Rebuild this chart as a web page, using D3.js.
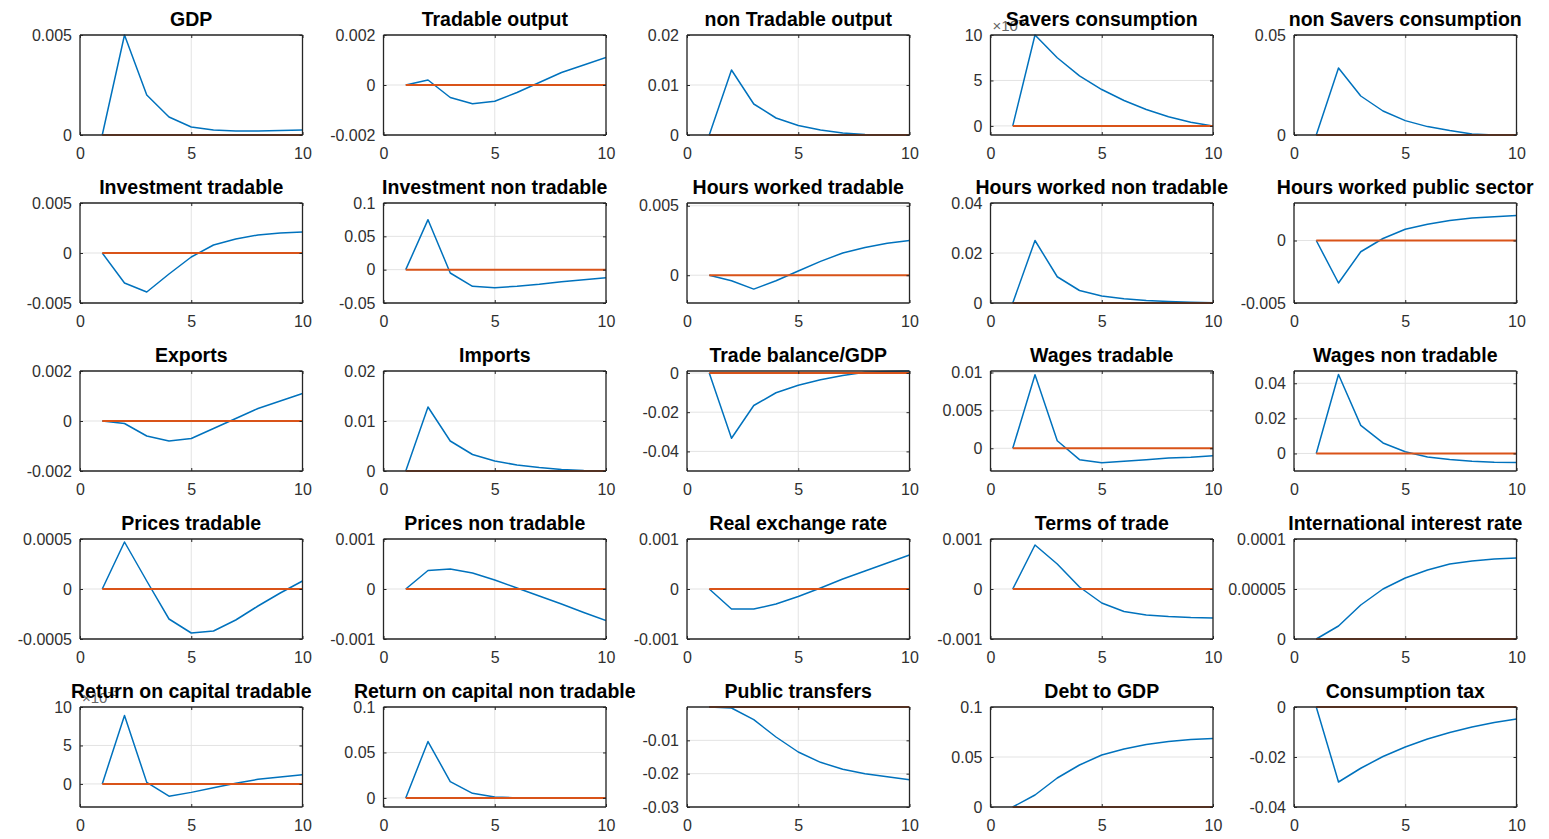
<!DOCTYPE html>
<html>
<head>
<meta charset="utf-8">
<script src="https://cdn.jsdelivr.net/npm/d3@7"></script>
<style>
  html, body { margin: 0; padding: 0; background: #ffffff; }
  svg { display: block; }
  text { font-family: "Liberation Sans", Arial, Helvetica, sans-serif; }
</style>
</head>
<body>
<svg id="chart" width="1549" height="839"></svg>
<script>
// ---------- DATA ----------
const periods = [1, 2, 3, 4, 5, 6, 7, 8, 9, 10];
const xTicks = [0, 5, 10];

const titles = [
  "GDP", "Tradable output", "non Tradable output", "Savers consumption", "non Savers consumption",
  "Investment tradable", "Investment non tradable", "Hours worked tradable", "Hours worked non tradable", "Hours worked public sector",
  "Exports", "Imports", "Trade balance/GDP", "Wages tradable", "Wages non tradable",
  "Prices tradable", "Prices non tradable", "Real exchange rate", "Terms of trade", "International interest rate",
  "Return on capital tradable", "Return on capital non tradable", "Public transfers", "Debt to GDP", "Consumption tax"
];

const gdp              = [0, 0.005, 0.002, 0.0009, 0.0004, 0.00025, 0.0002, 0.0002, 0.00022, 0.00025];
const tradableOutput   = [0, 0.0002, -0.0005, -0.00075, -0.00065, -0.0003, 0.0001, 0.0005, 0.0008, 0.0011];
const nonTradableOut   = [0, 0.013, 0.0062, 0.0034, 0.0019, 0.001, 0.0004, 0.0001, 0, 0];
const saversCons       = [0, 0.010, 0.0075, 0.0055, 0.004, 0.0028, 0.0018, 0.001, 0.0004, 0];
const nonSaversCons    = [0, 0.0335, 0.0195, 0.012, 0.0072, 0.0042, 0.0022, 0.0005, 0, 0];
const investTradable   = [0, -0.003, -0.0039, -0.0021, -0.0004, 0.0008, 0.0014, 0.0018, 0.002, 0.0021];
const investNonTrad    = [0, 0.075, -0.005, -0.025, -0.027, -0.025, -0.022, -0.018, -0.015, -0.012];
const hoursTradable    = [0, -0.0004, -0.001, -0.0004, 0.0003, 0.001, 0.0016, 0.002, 0.0023, 0.0025];
const hoursNonTradable = [0, 0.025, 0.0105, 0.005, 0.0028, 0.0017, 0.001, 0.0006, 0.0003, 0.0001];
const hoursPublic      = [0, -0.0034, -0.0009, 0.00016, 0.0009, 0.0013, 0.0016, 0.0018, 0.0019, 0.002];
const exportsS         = [0, -0.0001, -0.0006, -0.0008, -0.0007, -0.0003, 0.0001, 0.0005, 0.0008, 0.0011];
const importsS         = [0, 0.0128, 0.006, 0.0033, 0.002, 0.0012, 0.0007, 0.0003, 0.0001, 0];
const tradeBalance     = [0, -0.0333, -0.0166, -0.0101, -0.0063, -0.0035, -0.0013, 0.0004, 0.0008, 0.001];
const wagesTradable    = [0, 0.0097, 0.001, -0.0015, -0.0019, -0.0017, -0.0015, -0.0013, -0.0012, -0.001];
const wagesNonTradable = [0, 0.045, 0.016, 0.006, 0.001, -0.002, -0.0035, -0.0045, -0.005, -0.0052];
const pricesTradable   = [0, 0.00047, 0.00008, -0.0003, -0.00044, -0.00042, -0.00031, -0.00017, -0.00004, 0.00008];
const pricesNonTrad    = [0, 0.00037, 0.0004, 0.00032, 0.00018, 0.00002, -0.00014, -0.0003, -0.00047, -0.00063];
const realExchange     = [0, -0.0004, -0.0004, -0.0003, -0.00015, 0.00002, 0.0002, 0.00036, 0.00052, 0.00068];
const termsOfTrade     = [0, 0.00088, 0.0005, 0.00004, -0.00028, -0.00045, -0.00052, -0.00055, -0.00057, -0.00058];
const intlRate         = [0, 0.000013, 0.000034, 0.00005, 0.000061, 0.000069, 0.000075, 0.000078, 0.00008, 0.000081];
const returnTradable   = [0, 0.0089, 0.0002, -0.0016, -0.0011, -0.0005, 0.0001, 0.0006, 0.0009, 0.0012];
const returnNonTrad    = [0, 0.062, 0.018, 0.005, 0.001, 0, -0.0003, -0.0003, -0.0002, -0.0001];
const publicTransfers  = [0, -0.0003, -0.0038, -0.009, -0.0135, -0.0166, -0.0187, -0.02, -0.0209, -0.0218];
const debtToGdp        = [0, 0.012, 0.029, 0.042, 0.052, 0.058, 0.0625, 0.0655, 0.0675, 0.0685];
const consumptionTax   = [0, -0.03, -0.0245, -0.0198, -0.016, -0.0128, -0.0102, -0.008, -0.0062, -0.0048];

const baseline = [0, 0, 0, 0, 0, 0, 0, 0, 0, 0];

const seriesList = [
  gdp, tradableOutput, nonTradableOut, saversCons, nonSaversCons,
  investTradable, investNonTrad, hoursTradable, hoursNonTradable, hoursPublic,
  exportsS, importsS, tradeBalance, wagesTradable, wagesNonTradable,
  pricesTradable, pricesNonTrad, realExchange, termsOfTrade, intlRate,
  returnTradable, returnNonTrad, publicTransfers, debtToGdp, consumptionTax
];

const yDomains = [
  [0, 0.005], [-0.002, 0.002], [0, 0.02], [-0.001, 0.010], [0, 0.05],
  [-0.005, 0.005], [-0.05, 0.1], [-0.002, 0.0052], [0, 0.04], [-0.005, 0.003],
  [-0.002, 0.002], [0, 0.02], [-0.05, 0.001], [-0.003, 0.0102], [-0.01, 0.047],
  [-0.0005, 0.0005], [-0.001, 0.001], [-0.001, 0.001], [-0.001, 0.001], [0, 0.0001],
  [-0.003, 0.010], [-0.01, 0.1], [-0.03, 0], [0, 0.1], [-0.04, 0]
];

const yTickValues = [
  [0, 0.005], [-0.002, 0, 0.002], [0, 0.01, 0.02], [0, 0.005, 0.010], [0, 0.05],
  [-0.005, 0, 0.005], [-0.05, 0, 0.05, 0.1], [0, 0.005], [0, 0.02, 0.04], [-0.005, 0],
  [-0.002, 0, 0.002], [0, 0.01, 0.02], [-0.04, -0.02, 0], [0, 0.005, 0.01], [0, 0.02, 0.04],
  [-0.0005, 0, 0.0005], [-0.001, 0, 0.001], [-0.001, 0, 0.001], [-0.001, 0, 0.001], [0, 0.00005, 0.0001],
  [0, 0.005, 0.010], [0, 0.05, 0.1], [-0.03, -0.02, -0.01], [0, 0.05, 0.1], [-0.04, -0.02, 0]
];

const yTickLabels = [
  ["0", "0.005"], ["-0.002", "0", "0.002"], ["0", "0.01", "0.02"], ["0", "5", "10"], ["0", "0.05"],
  ["-0.005", "0", "0.005"], ["-0.05", "0", "0.05", "0.1"], ["0", "0.005"], ["0", "0.02", "0.04"], ["-0.005", "0"],
  ["-0.002", "0", "0.002"], ["0", "0.01", "0.02"], ["-0.04", "-0.02", "0"], ["0", "0.005", "0.01"], ["0", "0.02", "0.04"],
  ["-0.0005", "0", "0.0005"], ["-0.001", "0", "0.001"], ["-0.001", "0", "0.001"], ["-0.001", "0", "0.001"], ["0", "0.00005", "0.0001"],
  ["0", "5", "10"], ["0", "0.05", "0.1"], ["-0.03", "-0.02", "-0.01"], ["0", "0.05", "0.1"], ["-0.04", "-0.02", "0"]
];

// panels that show a "×10^-3" exponent label
const exponentPanels = [3, 20];

// ---------- LAYOUT ----------
const svg = d3.select("#chart");
const nCols = 5;
const left0 = 80, colStep = 303.5, plotW = 222.5;
const top0 = 35, rowStep = 168, plotH = 100;

const blue = "#0072BD", orange = "#D95319";
const axisColor = "#262626", gridColor = "#e3e3e3", tickTextColor = "#303030";

titles.forEach((title, i) => {
  const r = Math.floor(i / nCols), c = i % nCols;
  const ox = left0 + c * colStep, oy = top0 + r * rowStep;
  const g = svg.append("g").attr("transform", `translate(${ox},${oy})`);

  const x = d3.scaleLinear().domain([0, 10]).range([0, plotW]);
  const y = d3.scaleLinear().domain(yDomains[i]).range([plotH, 0]);

  g.append("rect").attr("width", plotW).attr("height", plotH).attr("fill", "#fff");

  // grid
  const grid = g.append("g");
  xTicks.forEach(t => {
    grid.append("line").attr("x1", x(t)).attr("x2", x(t)).attr("y1", 0).attr("y2", plotH)
      .attr("stroke", gridColor).attr("stroke-width", 1);
  });
  yTickValues[i].forEach(t => {
    grid.append("line").attr("x1", 0).attr("x2", plotW).attr("y1", y(t)).attr("y2", y(t))
      .attr("stroke", gridColor).attr("stroke-width", 1);
  });

  // clip
  const clipId = "clip" + i;
  g.append("clipPath").attr("id", clipId).append("rect")
    .attr("x", 0).attr("y", -1).attr("width", plotW).attr("height", plotH + 2);

  const line = d3.line().x((d, k) => x(periods[k])).y(d => y(d));

  const lines = g.append("g").attr("clip-path", `url(#${clipId})`);
  lines.append("path").datum(seriesList[i]).attr("d", line)
    .attr("fill", "none").attr("stroke", blue).attr("stroke-width", 1.5).attr("stroke-linejoin", "round");
  lines.append("path").datum(baseline).attr("d", line)
    .attr("fill", "none").attr("stroke", orange).attr("stroke-width", 2);

  // axes (MATLAB-style inward ticks, box on)
  const xAxisB = d3.axisBottom(x).tickValues(xTicks).tickSize(-3).tickPadding(13).tickFormat(d3.format("d"));
  const xAxisT = d3.axisTop(x).tickValues(xTicks).tickSize(-3).tickFormat("");
  const yAxisL = d3.axisLeft(y).tickValues(yTickValues[i]).tickSize(-3).tickPadding(8)
    .tickFormat((d, k) => yTickLabels[i][k]);
  const yAxisR = d3.axisRight(y).tickValues(yTickValues[i]).tickSize(-3).tickFormat("");

  const styleAxis = sel => {
    sel.selectAll("path").attr("stroke", axisColor).attr("stroke-width", 1.3);
    sel.selectAll("line").attr("stroke", axisColor);
    sel.selectAll("text").attr("fill", tickTextColor).style("font-size", "16px")
      .style("font-family", '"Liberation Sans", Arial, sans-serif');
  };

  g.append("g").attr("transform", `translate(0,${plotH})`).call(xAxisB).call(styleAxis)
    .call(s => s.select(".domain").attr("d", `M0,0H${plotW}`));
  g.append("g").call(xAxisT).call(styleAxis)
    .call(s => s.select(".domain").attr("d", `M0,0H${plotW}`));
  g.append("g").call(yAxisL).call(styleAxis)
    .call(s => s.select(".domain").attr("d", `M0,0V${plotH}`));
  g.append("g").attr("transform", `translate(${plotW},0)`).call(yAxisR).call(styleAxis)
    .call(s => s.select(".domain").attr("d", `M0,0V${plotH}`));

  // exponent label
  if (exponentPanels.includes(i)) {
    const ex = g.append("text").attr("x", 2).attr("y", -4).attr("fill", "#666")
      .style("font-size", "15px");
    ex.append("tspan").text("×10");
    ex.append("tspan").attr("dy", -7).style("font-size", "12px").text("-3");
  }

  // title
  g.append("text").attr("x", plotW / 2).attr("y", -9).attr("text-anchor", "middle")
    .attr("fill", "#000").style("font-size", "19.5px").style("font-weight", "bold")
    .text(title);
});
</script>
</body>
</html>
